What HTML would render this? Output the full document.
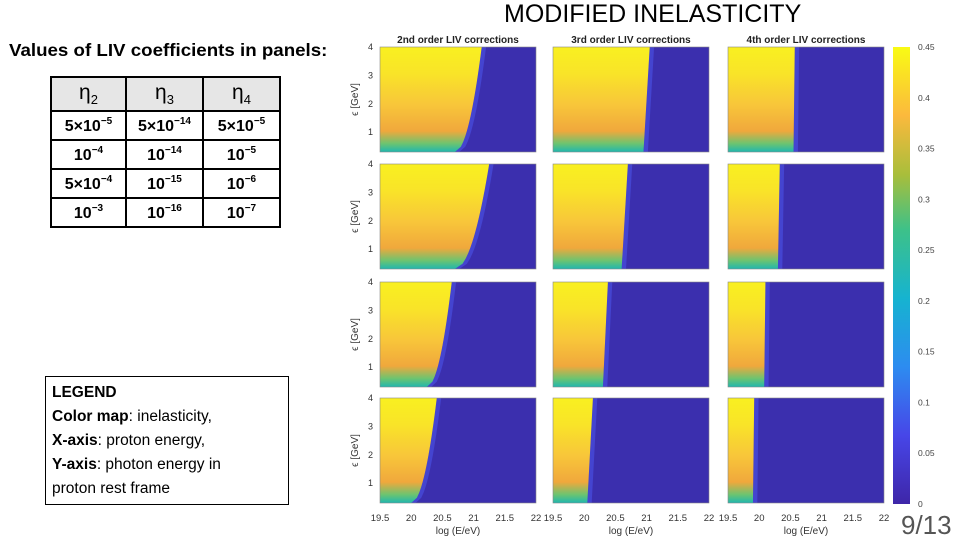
<!DOCTYPE html>
<html><head><meta charset="utf-8">
<style>
body{margin:0;width:960px;height:540px;background:#fff;overflow:hidden;position:relative;font-family:"Liberation Sans",sans-serif}
.t{position:absolute}
table{border-collapse:collapse;position:absolute;left:50px;top:76px;font-family:"Liberation Sans",sans-serif;font-weight:bold;font-size:16px}
td{border:2px solid #000;text-align:center;height:27px;padding:0}
th{border:2px solid #000;background:#e6e6e6;height:30px;font-weight:normal;font-size:21px}
sup{font-size:10px;vertical-align:7px}
</style></head><body>
<div class="t" style="left:504px;top:0px;font-size:25px;white-space:nowrap">MODIFIED INELASTICITY</div>
<div class="t" style="left:9px;top:40px;font-size:17.5px;font-weight:bold;transform:scaleX(1.07);transform-origin:left">Values of LIV coefficients in panels:</div>
<table>
<tr><th style="width:71px">η<sub style="font-size:13px">2</sub></th><th style="width:73px">η<sub style="font-size:13px">3</sub></th><th style="width:73px">η<sub style="font-size:13px">4</sub></th></tr>
<tr><td>5×10<sup>−5</sup></td><td>5×10<sup>−14</sup></td><td>5×10<sup>−5</sup></td></tr>
<tr><td>10<sup>−4</sup></td><td>10<sup>−14</sup></td><td>10<sup>−5</sup></td></tr>
<tr><td>5×10<sup>−4</sup></td><td>10<sup>−15</sup></td><td>10<sup>−6</sup></td></tr>
<tr><td>10<sup>−3</sup></td><td>10<sup>−16</sup></td><td>10<sup>−7</sup></td></tr>
</table>
<div class="t" style="left:45px;top:376px;width:236px;height:123px;border:1.5px solid #000;padding:4px 0 0 6px;font-size:15.5px;line-height:24px">
<b>LEGEND</b><br><b>Color map</b>: inelasticity,<br><b>X-axis</b>: proton energy,<br><b>Y-axis</b>: photon energy in<br>proton rest frame</div>
<div class="t" style="left:901px;top:510px;font-size:26px;color:#555">9/13</div>
<svg id="c" width="960" height="540" style="position:absolute;left:0;top:0">
<defs>
<linearGradient id="yg" x1="0" y1="1" x2="0" y2="0">
<stop offset="0" stop-color="#1fb7b0"/><stop offset="0.08" stop-color="#6cc470"/><stop offset="0.2" stop-color="#f0a83c"/><stop offset="0.45" stop-color="#f8c63a"/><stop offset="0.75" stop-color="#f9e428"/><stop offset="1" stop-color="#f9f020"/></linearGradient>
<linearGradient id="cb" x1="0" y1="1" x2="0" y2="0">
<stop offset="0" stop-color="#3e26a8"/><stop offset="0.15" stop-color="#4746e8"/><stop offset="0.3" stop-color="#2d8cf0"/><stop offset="0.45" stop-color="#16b3d0"/><stop offset="0.6" stop-color="#3dc189"/><stop offset="0.72" stop-color="#a8be3b"/><stop offset="0.85" stop-color="#fbb93d"/><stop offset="1" stop-color="#f9fb14"/></linearGradient>
</defs>
</svg>
<script>
const colTitles=["2nd order LIV corrections","3rd order LIV corrections","4th order LIV corrections"];
const xTicks=[19.5,20,20.5,21,21.5,22];
const yTicks=[1,2,3,4];
const cbTicks=[0,0.05,0.1,0.15,0.2,0.25,0.3,0.35,0.4,0.45];
// boundary (log E) of high-inelasticity region at eps=4 GeV (top) and eps=0.3 GeV (bottom), rows x cols
const boundaryTop=[[21.13,21.05,20.57],[21.25,20.7,20.33],[20.65,20.38,20.1],[20.41,20.14,19.92]];
const boundaryBottom=[[20.7,20.95,20.55],[20.7,20.6,20.3],[20.25,20.3,20.08],[20.0,20.05,19.9]];
const colX=[380,553,728], rowY=[47,164,282,398], PW=156, PH=105;
const svg=document.getElementById('c');const NS='http://www.w3.org/2000/svg';
function mk(t,a,p){const e=document.createElementNS(NS,t);for(const k in a)e.setAttribute(k,a[k]);(p||svg).appendChild(e);return e;}
function sx(c,v){return colX[c]+(v-19.5)/2.5*PW;}
function sy(r,v){return rowY[r]+PH-(v-0.3)/3.7*PH;}
for(let r=0;r<4;r++)for(let c=0;c<3;c++){
  const bg=mk('rect',{x:colX[c],y:rowY[r],width:PW,height:PH,fill:'#3b2fae'});
  
  
  const xt=boundaryTop[r][c],xb=boundaryBottom[r][c];
  let pts=[],pts2=[];
  for(let i=0;i<=20;i++){const e=0.3+3.7*i/20;const f=c==0?Math.sqrt(i/20):i/20;const x=xb+(xt-xb)*f;pts.push([sx(c,x),sy(r,e)]);pts2.push([sx(c,x+0.07),sy(r,e)]);}
  let d='M'+colX[c]+','+sy(r,0.3);pts.forEach(p=>d+='L'+p[0]+','+p[1]);d+='L'+colX[c]+','+rowY[r]+'Z';
  let d2='M'+pts[0][0]+','+pts[0][1];pts2.forEach(p=>d2+='L'+p[0]+','+p[1]);for(let i=pts.length-1;i>=0;i--)d2+='L'+pts[i][0]+','+pts[i][1];d2+='Z';
  const glow=mk('path',{d:d2,fill:'#4444d0'});
  
  
  const reg=mk('path',{d:d,fill:'url(#yg)'});
  
  
  mk('rect',{x:colX[c],y:rowY[r],width:PW,height:PH,fill:'none',stroke:'#888','stroke-width':0.6});
  if(c==0){
    yTicks.forEach(v=>{const t=mk('text',{x:colX[c]-7,y:sy(r,v)+3,'font-size':9,'text-anchor':'end',fill:'#333'});t.textContent=v;});
    const yl=mk('text',{x:0,y:0,'font-size':10,fill:'#333','text-anchor':'middle',transform:'translate('+(colX[c]-22)+','+(rowY[r]+PH/2)+') rotate(-90)'});yl.textContent='ϵ [GeV]';
    
  }
  if(r==3){
    xTicks.forEach(v=>{const t=mk('text',{x:sx(c,v),y:521,'font-size':9.5,'text-anchor':'middle',fill:'#333'});t.textContent=v;});
    const xl=mk('text',{x:colX[c]+PW/2,y:534,'font-size':10,'text-anchor':'middle',fill:'#333'});xl.textContent='log (E/eV)';
    
  }
  if(r==0){
    const t=mk('text',{x:colX[c]+PW/2,y:43,'font-size':10,'font-weight':'bold','text-anchor':'middle',fill:'#222'});
    t.textContent=colTitles[c];
  }
}
const cbar=mk('rect',{x:893,y:47,width:17,height:457,fill:'url(#cb)'});


cbTicks.forEach(v=>{const y=504-v/0.45*457;const t=mk('text',{x:918,y:y+3,'font-size':8.5,fill:'#444'});t.textContent=v;});
</script>
</body></html>
